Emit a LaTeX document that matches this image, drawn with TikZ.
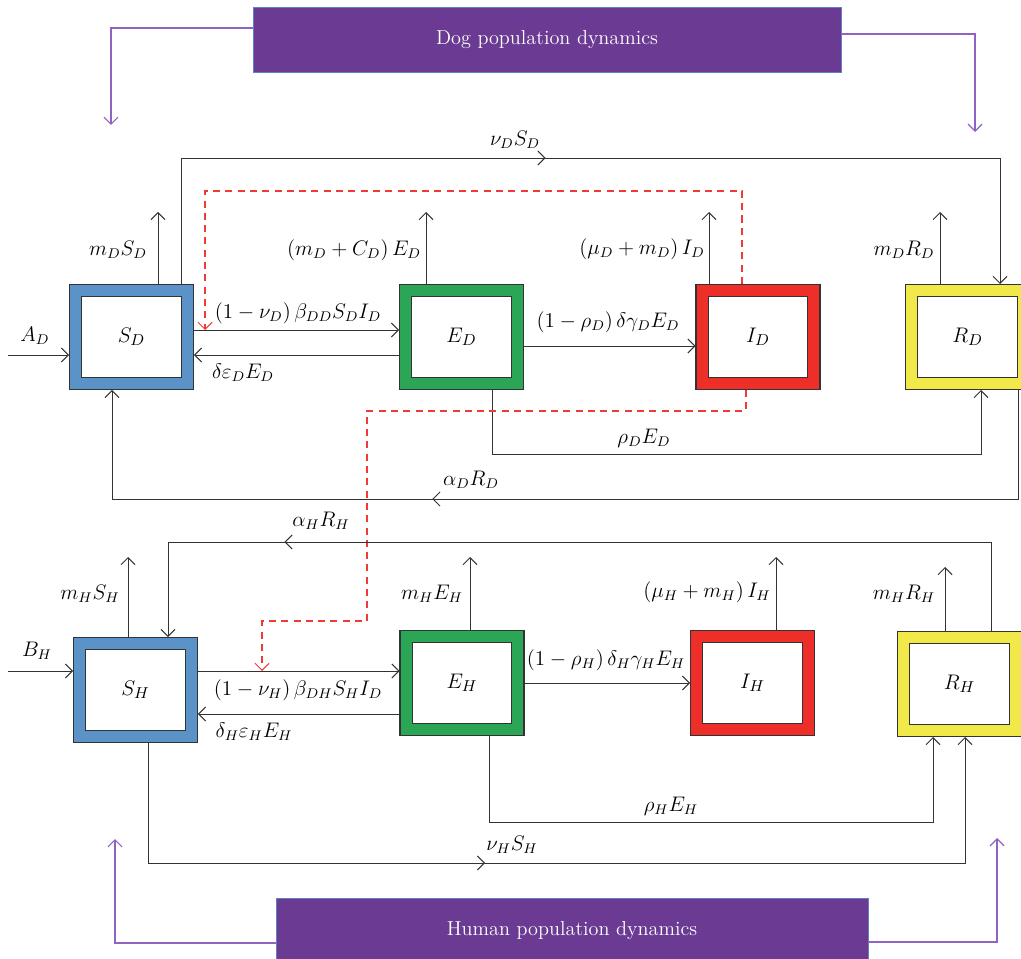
\documentclass[tikz,border=0pt]{standalone}
\usetikzlibrary{arrows.meta, decorations.markings}
\usepackage{xcolor}
\definecolor{cS}{HTML}{5B93C9}
\definecolor{cE}{HTML}{2BA657}
\definecolor{cI}{HTML}{EE2E28}
\definecolor{cR}{HTML}{F1E94A}
\definecolor{banfill}{HTML}{6B3B93}
\definecolor{banedge}{HTML}{5E80C4}
\definecolor{banline}{HTML}{8E63C2}
\definecolor{infline}{HTML}{EE3B36}

\begin{document}
\begin{tikzpicture}[
x=0.02cm, y=-0.02cm,
font=\fontsize{11.5}{13.5}\selectfont,
comp/.style={draw=black!80,
line width=0.6pt,
double=#1,
double distance=0.22cm,
fill=white,
minimum width=2.24cm,
minimum height=1.86cm,
inner sep=0pt,
outer sep=0.13cm,
font=\fontsize{13}{15}\selectfont},
banner/.style={draw=banedge,
fill=banfill,
text=white,
minimum width=11.76cm,
minimum height=1.3cm},
arrow/.style={-{Straight Barb[length=4pt,width=8pt]}, black!80, line width=0.55pt},
midarrow/.style={postaction={decorate, decoration={markings,
mark=at position #1 with {\arrow{Straight Barb[length=4pt,width=8pt]}}}}},
infect/.style={-{Straight Barb[length=4pt,width=8pt]}, infline, dash pattern=on 4pt off 3pt, line width=0.6pt},
link/.style={-{Straight Barb[length=4pt,width=8pt]}, banline, line width=0.7pt},
lab/.style={inner sep=1pt}
]
\useasboundingbox (0,0) rectangle (1021,959);

% banners
\node[banner] (dog) at (547,39.5) {Dog population dynamics};
\node[banner, minimum width=11.84cm] (human) at (572,931) {Human population dynamics};

% compartments
\node[comp=cS] (SD) at (131.5,337) {$S_D$};
\node[comp=cE] (ED) at (461.5,337) {$E_D$};
\node[comp=cI] (ID) at (758,337) {$I_D$};
\node[comp=cR] (RD) at (967.5,337) {$R_D$};
\node[comp=cS] (SH) at (135.5,690) {$S_H$};
\node[comp=cE] (EH) at (462,683) {$E_H$};
\node[comp=cI] (IH) at (752.5,683) {$I_H$};
\node[comp=cR] (RH) at (959.5,684) {$R_H$};

\coordinate (dl) at (111,125);
\coordinate (dr) at (975,132);
\coordinate (hl) at (115,839);
\coordinate (hr) at (997,838);
\coordinate (inA) at (8,355);
\coordinate (inB) at (8,671);
\coordinate (hitD) at (205,330);
\coordinate (hitH) at (262,671);
\coordinate (cD) at (205,191);
\coordinate (cH1) at (367,411);
\coordinate (cH2) at (262,621);
\coordinate (vD) at (1000,158);
\coordinate (rD) at (981,454);
\coordinate (aD) at (112,499);
\coordinate (aH) at (168,542);
\coordinate (rH) at (933,822);
\coordinate (vH) at (965,863);
\coordinate (oSD) at (158,212);
\coordinate (oED) at (426,212);
\coordinate (oID) at (709,212);
\coordinate (oRD) at (940,212);
\coordinate (oSH) at (128,557);
\coordinate (oEH) at (470,557);
\coordinate (oIH) at (776,557);
\coordinate (oRH) at (945,567);

\draw[link] ([yshift=0.23cm]dog.west) -| (dl);
\draw[link] ([yshift=0.11cm]dog.east) -| (dr);
\draw[link] ([yshift=-0.24cm]human.west) -| (hl);
\draw[link] ([yshift=-0.22cm]human.east) -| (hr);

% dogs
\draw[arrow] (inA) -- (SD.west |- inA);
\draw[arrow] (SD.east |- hitD) -- (ED.west |- hitD);
\draw[arrow] (ED.west |- inA) -- (SD.east |- inA);
\draw[arrow] ([yshift=-0.18cm]ED.east) -- ([yshift=-0.18cm]ID.west);
\draw[arrow] (SD.north -| oSD) -- (oSD);
\draw[arrow] (ED.north -| oED) -- (oED);
\draw[arrow] (ID.north -| oID) -- (oID);
\draw[arrow] (RD.north -| oRD) -- (oRD);
\draw[arrow, midarrow=0.458] ([xshift=0.99cm]SD.north) |- (vD) -- (RD.north -| vD);
\draw[arrow] ([xshift=0.61cm]ED.south) |- (rD) -- (RD.south -| rD);
\draw[arrow, midarrow=0.618] ([xshift=1.01cm]RD.south) |- (aD) -- (SD.south -| aD);
\draw[infect] ([xshift=-0.32cm]ID.north) |- (cD) -- (hitD);
\draw[infect] ([xshift=-0.24cm]ID.south) |- (cH1) |- (cH2) -- (hitH);

% humans
\draw[arrow] (inB) -- (SH.west |- inB);
\draw[arrow] (SH.east |- hitH) -- (EH.west |- hitH);
\draw[arrow] ([yshift=-0.62cm]EH.west) -- ([yshift=-0.62cm]EH.west -| SH.east);
\draw[arrow] (EH) -- (IH);
\draw[arrow] (SH.north -| oSH) -- (oSH);
\draw[arrow] (EH.north -| oEH) -- (oEH);
\draw[arrow] (IH.north -| oIH) -- (oIH);
\draw[arrow] (RH.north -| oRH) -- (oRH);
\draw[arrow, midarrow=0.79] ([xshift=0.63cm]RH.north) |- (aH) -- (SH.north -| aH);
\draw[arrow] ([xshift=0.54cm]EH.south) |- (rH) -- (RH.south -| rH);
\draw[arrow, midarrow=0.43] ([xshift=0.25cm]SH.south) |- (vH) -- (RH.south -| vH);

% rates
\node[lab] (lAD) at (35,336) {$A_D$};
\node[lab] (lmSD) at (118,250) {$m_DS_D$};
\node[lab] (lmED) at (354,250) {$(m_D+C_D)\,E_D$};
\node[lab] (lmID) at (642,249) {$(\mu_D+m_D)\,I_D$};
\node[lab] (lmRD) at (904,250) {$m_DR_D$};
\node[lab] (lvD) at (515,140) {$\nu_DS_D$};
\node[lab] (lbD) at (298,313) {$(1-\nu_D)\,\beta_{DD}S_DI_D$};
\node[lab] (leD) at (243,373) {$\delta\varepsilon_DE_D$};
\node[lab] (lgD) at (608,322) {$(1-\rho_D)\,\delta\gamma_DE_D$};
\node[lab] (lrD) at (644,438) {$\rho_DE_D$};
\node[lab] (laD) at (471,480) {$\alpha_DR_D$};
\node[lab] (laH) at (321,521) {$\alpha_HR_H$};
\node[lab] (lmSH) at (90,594) {$m_HS_H$};
\node[lab] (lmEH) at (432,594) {$m_HE_H$};
\node[lab] (lmIH) at (707,592) {$(\mu_H+m_H)\,I_H$};
\node[lab] (lmRH) at (904,594) {$m_HR_H$};
\node[lab] (lBH) at (37,651) {$B_H$};
\node[lab] (lbH) at (298,690) {$(1-\nu_H)\,\beta_{DH}S_HI_D$};
\node[lab] (leH) at (254,732) {$\delta_H\varepsilon_HE_H$};
\node[lab] (lgH) at (606,660) {$(1-\rho_H)\,\delta_H\gamma_HE_H$};
\node[lab] (lrH) at (671,806) {$\rho_HE_H$};
\node[lab] (lvH) at (512,845) {$\nu_HS_H$};

\end{tikzpicture}
\end{document}
